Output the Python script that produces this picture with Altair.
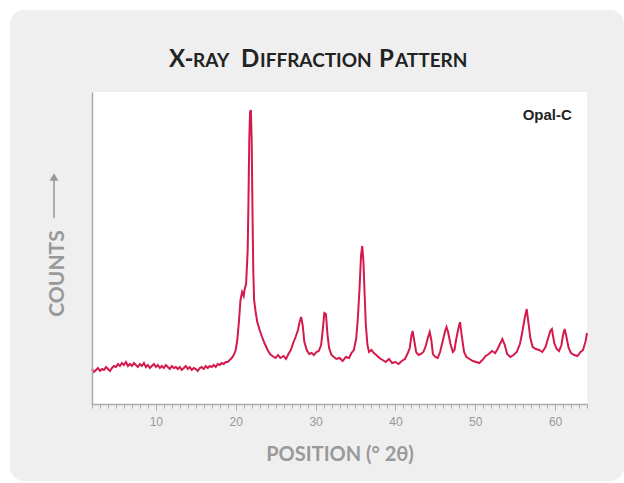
import altair as alt
import pandas as pd

# ---- data (2θ in degrees, counts) ----
two_theta = [
    2.0, 2.25, 2.5, 2.75, 3.0, 3.25, 3.5, 3.75, 4.0, 4.25, 4.5, 4.75,
    5.0, 5.25, 5.5, 5.75, 6.0, 6.25, 6.5, 6.75, 7.0, 7.25, 7.5, 7.75,
    8.0, 8.25, 8.5, 8.75, 9.0, 9.25, 9.5, 9.75, 10.0, 10.25, 10.5, 10.75,
    11.0, 11.25, 11.5, 11.75, 12.0, 12.25, 12.5, 12.75, 13.0, 13.25, 13.5, 13.75,
    14.0, 14.25, 14.5, 14.75, 15.0, 15.25, 15.5, 15.75, 16.0, 16.25, 16.5, 16.75,
    17.0, 17.25, 17.5, 17.75, 18.0, 18.25, 18.5, 18.75, 19.0, 19.25, 19.5, 19.75,
    20.0, 20.2, 20.4, 20.6, 20.8, 21.0, 21.1, 21.3, 21.5, 21.6, 21.7, 21.8,
    21.9, 22.0, 22.1, 22.2, 22.3, 22.5, 22.7, 23.0, 23.3, 23.6, 24.0, 24.3,
    24.6, 25.0, 25.3, 25.6, 26.0, 26.3, 26.6, 26.9, 27.2, 27.5, 27.8, 28.0,
    28.2, 28.4, 28.6, 28.9, 29.2, 29.5, 29.8, 30.1, 30.4, 30.7, 30.9, 31.1,
    31.3, 31.5, 31.7, 32.0, 32.3, 32.6, 33.0, 33.4, 33.8, 34.2, 34.5, 34.8,
    35.1, 35.3, 35.5, 35.7, 35.85, 36.0, 36.15, 36.3, 36.5, 36.7, 37.0, 37.3,
    37.6, 38.0, 38.4, 38.8, 39.2, 39.6, 40.0, 40.4, 40.8, 41.2, 41.5, 41.8,
    42.0, 42.15, 42.35, 42.6, 42.9, 43.2, 43.5, 43.8, 44.1, 44.3, 44.5, 44.7,
    45.0, 45.3, 45.6, 45.9, 46.2, 46.4, 46.6, 46.9, 47.2, 47.4, 47.6, 47.9,
    48.1, 48.3, 48.6, 48.9, 49.3, 49.7, 50.1, 50.5, 50.9, 51.3, 51.7, 52.1,
    52.5, 52.8, 53.1, 53.4, 53.7, 54.0, 54.4, 54.8, 55.2, 55.6, 55.9, 56.2,
    56.45, 56.7, 56.9, 57.2, 57.6, 58.0, 58.4, 58.8, 59.1, 59.4, 59.6, 59.9,
    60.2, 60.5, 60.8, 61.0, 61.2, 61.4, 61.7, 62.0, 62.4, 62.8, 63.2, 63.5,
    63.8, 64.0,
]
counts = [
    350, 320, 340, 360, 330, 350, 340, 370, 350, 330, 360, 380,
    370, 400, 380, 410, 390, 420, 380, 400, 380, 410, 390, 370,
    400, 380, 410, 370, 390, 360, 380, 400, 370, 390, 360, 380,
    360, 390, 370, 350, 380, 360, 370, 350, 370, 340, 360, 380,
    350, 370, 340, 360, 350, 330, 360, 370, 350, 380, 360, 380,
    370, 390, 370, 400, 390, 410, 400, 420, 420, 440, 460, 490,
    540, 640, 820, 1040, 1120, 1080, 1140, 1200, 1540, 2040, 2640, 2920,
    2940, 2640, 1940, 1340, 1040, 920, 820, 740, 670, 610, 540, 500,
    480, 460, 490, 460, 480, 450, 500, 540, 610, 670, 740, 820,
    870, 780, 620, 540, 500, 510, 490, 520, 530, 590, 740, 910,
    900, 690, 560, 490, 470, 450, 460, 430, 470, 460, 510, 540,
    660, 860, 1140, 1490, 1580, 1420, 1090, 790, 590, 520, 540, 510,
    490, 460, 440, 420, 450, 410, 420, 400, 430, 450, 500, 560,
    680, 730, 640, 520, 490, 500, 520, 580, 670, 720, 640, 500,
    470, 460, 520, 620, 720, 770, 720, 600, 520, 540, 640, 760,
    820, 690, 520, 470, 450, 430, 420, 410, 440, 480, 500, 530,
    510, 550, 600, 650, 590, 500, 470, 490, 520, 600, 720, 860,
    950, 790, 660, 570, 550, 540, 520, 570, 650, 730, 750, 610,
    550, 530, 590, 690, 750, 680, 560, 510, 490, 480, 520, 540,
    620, 710,
]
sample_label = ["Opal-C"]
sample_x = [62.1]
sample_y = [2890]
major_ticks = [10, 20, 30, 40, 50, 60]
minor_ticks = list(range(2, 65))
# title in small caps: (text, large capital?)
title_parts = [("X-", True), ("RAY", False), ("D", True), ("IFFRACTION", False), ("P", True), ("ATTERN", False)]

W, H = 495, 312
df = pd.DataFrame({"two_theta": two_theta, "counts": counts})
lab = pd.DataFrame({"x": sample_x, "y": sample_y, "t": sample_label})
one = pd.DataFrame({"k": [0]})

xscale = alt.Scale(domain=[2, 64], nice=False, zero=False)
yscale = alt.Scale(domain=[0, 3120], nice=False)

panel = alt.Chart(one).mark_rect(color="#efefef", cornerRadius=14).encode(
    x=alt.value(-82), x2=alt.value(532), y=alt.value(-82), y2=alt.value(389)
)
plotbg = alt.Chart(one).mark_rect(color="white").encode(
    x=alt.value(0), x2=alt.value(W), y=alt.value(0), y2=alt.value(H)
)

# small-caps title built from pieces
title_x = [77, 101, 149, 168, 287, 303]
title_layers = []
for (txt, big), tx in zip(title_parts, title_x):
    title_layers.append(
        alt.Chart(one).mark_text(
            text=txt, font="Lato", fontSize=24 if big else 19, fontWeight="bold",
            color="#222222", align="left", baseline="alphabetic"
        ).encode(x=alt.value(tx), y=alt.value(-25))
    )

# arrow next to the COUNTS title
arrow_line = alt.Chart(one).mark_rule(color="#999999", strokeWidth=1.5).encode(
    x=alt.value(-38), y=alt.value(126), y2=alt.value(88)
)
arrow_head = alt.Chart(one).mark_point(
    shape="triangle-up", filled=True, color="#999999", opacity=1, size=80
).encode(x=alt.value(-38), y=alt.value(85))

line = alt.Chart(df).mark_line(color="#d31a4b", strokeWidth=2).encode(
    x=alt.X("two_theta:Q", scale=xscale, axis=alt.Axis(
        values=major_ticks, orient="bottom", tickSize=6, tickColor="#aaaaaa", tickWidth=1,
        domainColor="#aaaaaa", domainWidth=1.5, grid=False,
        labelFont="Liberation Sans", labelFontSize=12, labelColor="#999999", labelPadding=6,
        title="POSITION (° 2θ)", titleFont="Lato", titleFontSize=20, titleFontWeight="bold",
        titleColor="#999999", titleY=56, titleBaseline="alphabetic", zindex=1)),
    y=alt.Y("counts:Q", scale=yscale, axis=alt.Axis(
        labels=False, ticks=False, grid=False, domainColor="#aaaaaa", domainWidth=1.5,
        title="COUNTS", titleFont="Lato", titleFontSize=21, titleFontWeight="bold",
        titleColor="#999999", titleAngle=270, titleX=-29, titleY=181,
        titleBaseline="alphabetic", titleAlign="center", zindex=1)),
)

label = alt.Chart(lab).mark_text(
    font="Liberation Sans", fontSize=15, fontWeight="bold", color="#222222",
    align="right", baseline="middle"
).encode(
    x=alt.X("x:Q", scale=xscale, axis=alt.Axis(
        values=minor_ticks, orient="bottom", labels=False, domain=False, grid=False,
        tickSize=4, tickColor="#aaaaaa", tickWidth=1, title=None, zindex=1)),
    y=alt.Y("y:Q", scale=yscale, axis=None),
    text="t:N",
)

chart = alt.layer(panel, plotbg, *title_layers, arrow_line, arrow_head, line, label).resolve_axis(
    x="independent", y="independent"
).properties(
    width=W, height=H,
    padding={"left": 92, "top": 92, "right": 37, "bottom": 79},
    autosize=alt.AutoSizeParams(type="none"),
    background="white",
).configure_view(stroke=None)

chart.save("out.html", embed_options={"renderer": "svg", "actions": False})
